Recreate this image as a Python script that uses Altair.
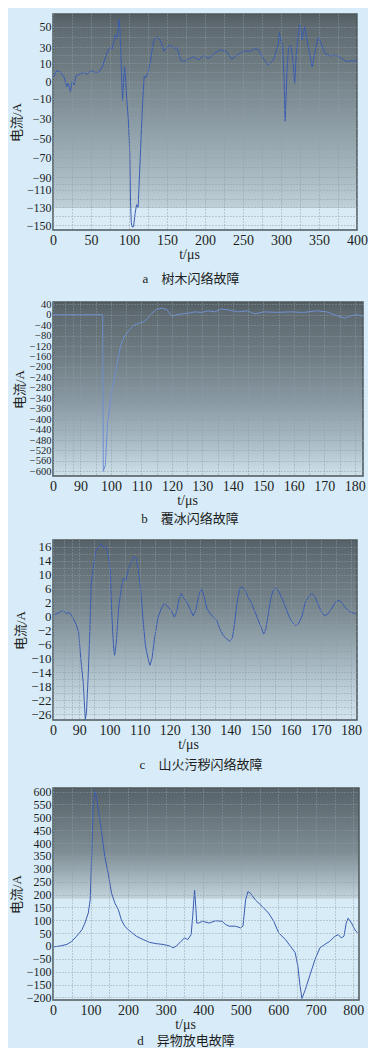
import json
import altair as alt
import pandas as pd

SERIF = "'Liberation Serif', 'Noto Sans CJK SC', serif"
INK = "#1e1e1e"

# ---------------- data ----------------
# a: tree flashover
a_t = [0,5,10,15,18,20,23,25,28,30,35,40,45,50,55,60,65,68,70,72,75,78,80,82,84,86,87,88,90,91.5,94,95,97,99,101,102,103,104,106,108,110,112,114,116,118,120,122,125,128,130,133,136,140,143,146,150,155,160,163,168,172,178,185,192,198,205,212,220,228,235,242,250,255,260,265,270,278,283,290,296,298,300,302,304,305.5,308,310,313,316,318,320,323,325,328,331,334,338,341,345,349,353,358,365,372,380,386,392,398,400]
a_i = [2,6,5,2,-3,-1,-6,0,-2,3,4,5,4,6,5,5,8,14,20,25,30,28,35,42,38,50,57,48,6,-12,8,5,-10,-30,-64,-123,-147,-152,-152,-137,-127,-130,-85,-47,-13,3,2,5,11,25,37,40,38,33,25,30,32,28,30,14,12,15,18,14,20,16,22,27,25,15,20,25,25,25,28,27,14,9,14,32,44,35,32,2,-33,7,30,32,10,-1,20,45,52,37,50,38,20,8,25,40,33,22,19,20,16,12,13,13,12]
a_yticks = [50, 30, 10, 0, -10, -30, -50, -70, -90, -110, -130, -150]
a_xticks = [0, 50, 100, 150, 200, 250, 300, 350, 400]

# b: ice flashover
b_t = [81,90,97.3,97.5,98.2,98.6,98.9,99.5,100,100.5,101,101.6,102.5,103.2,104.3,105.9,107.5,109.2,110.8,111.9,113.5,115.1,116.8,118.4,120,121.6,123.2,125.4,127.6,129.7,131.9,134,136.2,138.4,141.6,144.9,147,150.3,154.6,158.9,163.2,167.6,170.8,174,176.8,179,181,182.7]
b_i = [0,0,0,-600,-575,-480,-410,-370,-322,-277,-250,-215,-157,-118,-86,-60,-40,-33,-27,-15,6,22,25,19,-6,0,3,6,11,9,15,11,22,19,11,15,3,11,9,11,9,15,11,-3,-13,-3,0,-6]
b_yticks = [40, 0, -40, -80, -120, -160, -200, -240, -280, -340, -360, -400, -440, -480, -520, -560, -600]
bc_xticks = [90, 100, 110, 120, 130, 140, 150, 160, 170, 180]

# c: wildfire / pollution flashover
c_t = [81.9,83.5,84.6,85.7,86.7,87.8,88.9,89.8,90.5,91.3,92.0,92.4,93.0,93.5,93.9,94.6,95.4,96.5,97.2,98.1,98.9,99.5,100.3,100.8,101.4,101.7,102.3,103.0,103.9,104.6,105.4,106.3,107.4,108.2,108.9,109.5,110.4,111.1,111.9,112.8,113.4,114.1,114.9,116.0,117.1,118.2,119.3,120.4,121.5,122.2,123.1,123.8,124.7,125.8,126.9,127.7,128.6,129.6,130.5,131.4,132.3,133.4,134.5,135.6,136.6,137.7,138.8,139.9,140.8,141.5,142.3,143.1,144.0,144.9,145.9,146.9,148.0,149.1,150.2,151.1,151.8,152.7,153.4,154.2,155.1,156.2,157.2,158.3,159.4,160.5,161.6,162.7,163.8,164.8,165.9,167.0,168.1,169.2,170.3,171.3,172.4,173.5,174.6,175.7,176.8,177.9,179.0,180.0,181.6]
c_i = [0.3,0.6,0.9,0.4,0.6,-0.1,-1.1,-2.5,-10,-16.8,-27.4,-25.3,-14,-2.2,7,11.7,15.3,16,16.5,15.8,16,15,10.8,0.1,-7.2,-9.1,-5.3,1.1,6,8.9,8.4,11.7,13.9,14.6,14.3,11.7,5.0,-0.3,-6.3,-10.1,-12,-10,-4.4,-0.3,1.1,1.9,1.4,0.9,-0.1,0.6,3.1,4.6,3.1,1.9,0.9,0.1,0.9,4.1,6,3.6,1.1,0.4,-0.1,-0.6,-1.8,-3.4,-4.4,-5.1,-3.9,-0.8,2.1,6,6.5,5.5,3.6,2.1,0.9,-0.3,-1.5,-3,-1.8,0.6,3.1,5.5,6.2,5,3.1,1.4,0.1,-0.8,-1.3,-1,0.1,1.9,3.6,4.6,3.6,1.6,0.6,0.1,0.4,1.1,1.9,2.7,2.2,1.4,0.9,0.6,0.4]
c_yticks = [16, 14, 10, 6, 2, 0, -2, -6, -10, -14, -18, -22, -26]

# d: foreign object discharge
d_t = [0,19,37,50,63,77,85,94,99,103,107,112,116,121,130,138,147,156,165,174,182,191,200,209,222,240,257,275,293,311,320,329,341,350,359,368,372,377,379,383,388,398,416,433,451,460,469,486,500,506,513,519,526,539,557,574,588,601,619,632,645,652,658,663,671,685,698,711,724,737,751,760,768,775,781,786,795,804,811]
d_i = [-4,0,6,18,38,63,89,128,179,346,551,600,577,526,436,346,282,205,166,141,102,77,64,53,38,25,14,9,6,0,-7,0,18,31,25,44,115,217,179,89,89,96,89,98,96,83,77,77,70,77,179,211,205,179,154,128,96,51,25,0,-26,-77,-155,-204,-174,-110,-52,-7,6,18,38,44,31,38,89,108,89,63,51]
d_yticks = [600, 550, 500, 450, 400, 350, 300, 250, 200, 150, 100, 50, 0, -50, -100, -150, -200]
d_xticks = [0, 100, 200, 300, 400, 500, 600, 700, 800]

captions = ["a\u3000树木闪络故障", "b\u3000覆冰闪络故障", "c\u3000山火污秽闪络故障", "d\u3000异物放电故障"]


def mids(v):
    v = sorted(v)
    return v + [(v[k] + v[k + 1]) / 2 for k in range(len(v) - 1)]


def panel(t, i, width, height, xdom, xvals, xlabel_expr, ydom, yrng, yvals, ylabels,
          ylab_size, stops, caption, cap_dx, cap_offset, title_x, line_color):
    grad = alt.Gradient(
        gradient="linear", x1=0, x2=0, y1=0, y2=1,
        stops=[alt.GradientStop(offset=o, color=c) for o, c in stops])
    bg = alt.Chart(pd.DataFrame({"k": [0]})).mark_rect(
        fill=grad, stroke="#4d575b", strokeWidth=1.5
    ).encode(x=alt.value(0), x2=alt.value(width), y=alt.value(0), y2=alt.value(height))

    yscale = alt.Scale(domain=ydom, range=yrng, nice=False, zero=False) if yrng else \
        alt.Scale(domain=ydom, nice=False, zero=False)
    line = alt.Chart(pd.DataFrame({"t": t, "i": i})).mark_line(
        color=line_color, strokeWidth=1, clip=True
    ).encode(
        x=alt.X("t:Q", scale=alt.Scale(domain=xdom, nice=False, zero=False),
                axis=alt.Axis(values=xvals, labelExpr=xlabel_expr, title="t/μs",
                              titleX=title_x, titleY=17,
                              grid=True, ticks=False, domain=False, labelFlush=False,
                              labelOverlap=False, labelPadding=3, zindex=1)),
        y=alt.Y("i:Q", scale=yscale,
                axis=alt.Axis(values=yvals,
                              labelExpr="indexof(" + json.dumps(ylabels) + ", datum.value) >= 0 ? datum.label : ''",
                              title="电流/A", grid=True, ticks=False, domain=False,
                              labelFlush=False, labelOverlap=False, labelFontSize=ylab_size,
                              labelPadding=2, titlePadding=3, zindex=1)),
    )
    return alt.layer(bg, line).properties(
        width=width, height=height,
        title=alt.TitleParams(caption, orient="bottom", dx=cap_dx, offset=cap_offset,
                              fontSize=13, fontWeight="normal", font=SERIF, color=INK))


xgrid_bc = sorted(set(mids([85] + bc_xticks)))

a_px = [12.5, 33.2, 49.2, 67.5, 84.8, 104.2, 124.2, 143.2, 163.2, 175.8, 193.3, 211.0]
pa = panel(a_t, a_i, 304, 216, [0, 400], mids(a_xticks),
           "datum.value % 50 == 0 ? datum.label : ''",
           [-155.6] + a_yticks[::-1] + [62.1], [216] + a_px[::-1] + [0],
           mids(a_yticks), a_yticks, 12,
           [(0, "#525d62"), (0.05, "#5e6a6f"), (0.25, "#6f7c82"), (0.5, "#8b9ba3"),
            (0.75, "#a9bac3"), (0.895, "#bfd0d9"), (0.9, "#d8eaf4"), (1, "#dcedf7")],
           captions[0], -14, 12, 136, "#3a5cb2")

# ----- panel b -----
b_px = [2.3 + k * 10.44 for k in range(len(b_yticks))]
pb = panel(b_t, b_i, 310, 174, [81, 182.7], [81] + xgrid_bc,
           "datum.value < 84 ? '0' : (datum.value % 10 == 0 ? datum.label : '')",
           [-618] + b_yticks[::-1] + [48.8], [174] + b_px[::-1] + [0],
           b_yticks, b_yticks, 10.5,
           [(0, "#525d62"), (0.06, "#5e6a6f"), (0.3, "#6e7b81"), (0.55, "#8696a0"),
            (0.8, "#a8bac4"), (1, "#cfe2ec")],
           captions[1], -18, 6, 134, "#6d8ed2")

# ----- panel c -----
c_px = [6.7 + k * 13.97 for k in range(len(c_yticks))]
pc = panel(c_t, c_i, 304, 180, [81.3, 182], [81.3] + xgrid_bc,
           "datum.value < 84 ? '0' : (datum.value % 10 == 0 ? datum.label : '')",
           [-27.6] + c_yticks[::-1] + [17.0], [180] + c_px[::-1] + [0],
           mids(c_yticks), c_yticks, 13,
           [(0, "#56626a"), (0.08, "#5f6b70"), (0.35, "#75838a"), (0.6, "#98a9b2"),
            (0.8, "#b8cad3"), (1, "#d3e6f0")],
           captions[2], -4, 8, 135, "#3a5cb2")

# ----- panel d -----
pd_ = panel(d_t, d_i, 306, 212, [0, 815], mids(d_xticks),
            "datum.value % 100 == 0 ? datum.label : ''",
            [-210, 614], None, d_yticks, d_yticks, 12,
            [(0, "#56626a"), (0.08, "#616d72"), (0.3, "#7e8d94"), (0.52, "#c3d3dc"),
             (0.525, "#d8ecf7"), (1, "#d8ecf7")],
            captions[3], -20, 4, 132, "#3a5cb2")

chart = alt.vconcat(pa, pb, pc, pd_, spacing=13).properties(
    background="#d7ecf8",
    padding={"left": 2, "top": 5, "right": 0, "bottom": 0},
).configure_view(stroke=None).configure_axis(
    labelFont=SERIF, titleFont=SERIF, labelColor=INK, titleColor=INK,
    labelFontSize=14, titleFontSize=13, titleFontWeight="normal",
    gridColor="#8f9fa8", gridDash=[1, 2], gridWidth=1, gridOpacity=0.9,
).configure_axisX(titleFontSize=14)

chart.save("out.html", embed_options={"renderer": "svg", "actions": False})
